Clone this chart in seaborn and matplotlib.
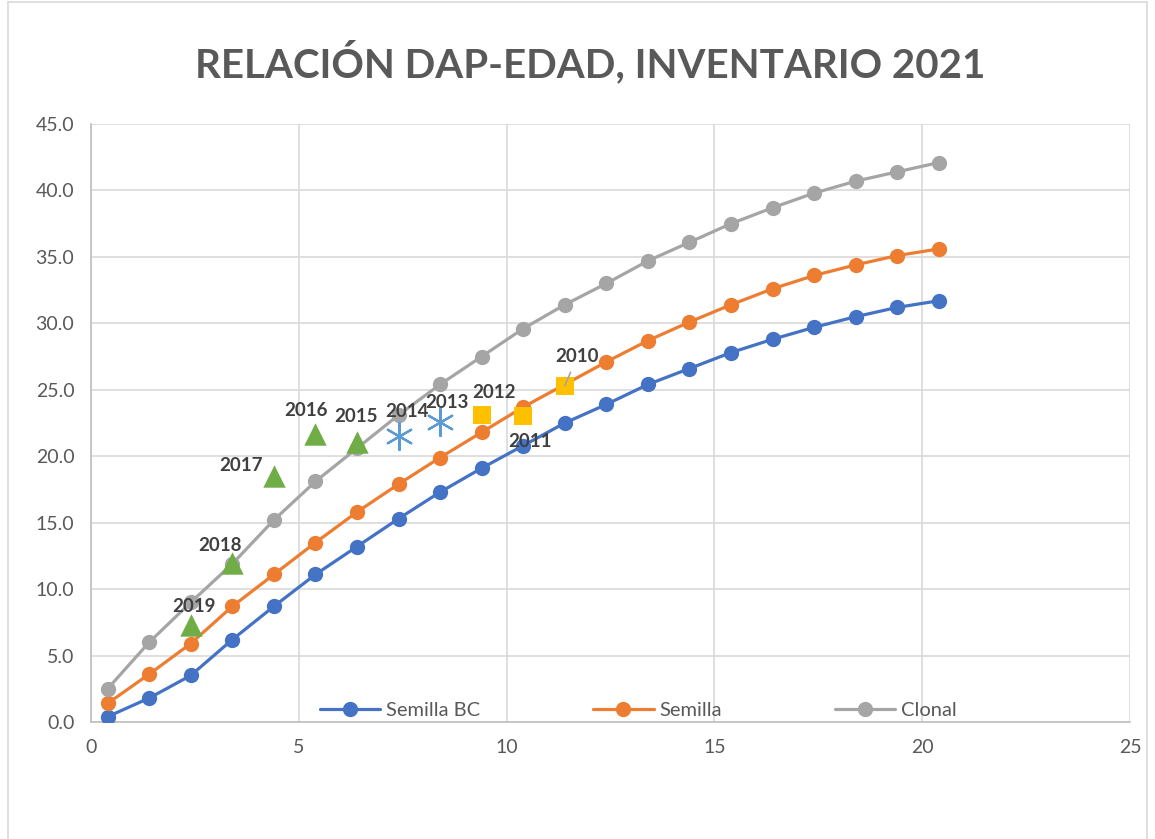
import matplotlib
matplotlib.use("Agg")
import matplotlib.pyplot as plt
import seaborn as sns
import pandas as pd
from matplotlib.patches import Rectangle

sns.set_theme(style="white")
plt.rcParams['font.family'] = ['Lato', 'DejaVu Sans']

# ------------------------------
# data
# ------------------------------
edad = [0.4, 1.4, 2.4, 3.4, 4.4, 5.4, 6.4, 7.4, 8.4, 9.4, 10.4,
        11.4, 12.4, 13.4, 14.4, 15.4, 16.4, 17.4, 18.4, 19.4, 20.4]
semilla_bc = [0.4, 1.8, 3.5, 6.2, 8.7, 11.1, 13.2, 15.3, 17.3, 19.1, 20.8,
              22.5, 23.9, 25.4, 26.6, 27.8, 28.8, 29.7, 30.5, 31.2, 31.7]
semilla = [1.4, 3.6, 5.9, 8.7, 11.1, 13.5, 15.8, 17.9, 19.9, 21.8, 23.7,
           25.4, 27.1, 28.7, 30.1, 31.4, 32.6, 33.6, 34.4, 35.1, 35.6]
clonal = [2.5, 6.0, 9.0, 11.9, 15.2, 18.1, 20.6, 23.1, 25.4, 27.5, 29.6,
          31.4, 33.0, 34.7, 36.1, 37.5, 38.7, 39.8, 40.7, 41.4, 42.1]

# inventario 2021 by planting year
inv_year = [2019, 2018, 2017, 2016, 2015, 2014, 2013, 2012, 2011, 2010]
inv_edad = [2.4, 3.4, 4.4, 5.4, 6.4, 7.4, 8.4, 9.4, 10.4, 11.4]
inv_dap = [7.3, 12.0, 18.5, 21.7, 21.1, 21.5, 22.6, 23.1, 23.0, 25.3]
inv_group = ["tri"] * 5 + ["ast"] * 2 + ["sq"] * 3

curves = pd.DataFrame({
    "edad": edad * 3,
    "dap": semilla_bc + semilla + clonal,
    "serie": ["Semilla BC"] * 21 + ["Semilla"] * 21 + ["Clonal"] * 21,
})
inv = pd.DataFrame({"year": inv_year, "edad": inv_edad, "dap": inv_dap, "grupo": inv_group})

colors = {"Semilla BC": "#4472C4", "Semilla": "#ED7D31", "Clonal": "#A5A5A5"}

fig = plt.figure(figsize=(11.55, 8.39), dpi=100)
ax = fig.add_axes([91 / 1155, 1 - 722 / 839, 1039 / 1155, 598 / 839])

sns.lineplot(data=curves, x="edad", y="dap", hue="serie", palette=colors,
             marker="o", markersize=11, markeredgewidth=0, linewidth=2.3,
             ax=ax, zorder=3)

grp_style = {
    "tri": dict(marker="^", s=260, color="#70AD47", linewidths=0),
    "ast": dict(marker=(6, 2, 0), s=380, color="#5B9BD5", linewidths=1.6),
    "sq": dict(marker="s", s=170, color="#FFC000", linewidths=0),
}
for g, st in grp_style.items():
    sub = inv[inv["grupo"] == g]
    sns.scatterplot(data=sub, x="edad", y="dap", ax=ax, zorder=4, legend=False, **st)

# label offsets in points
offsets = {2019: (2, 13), 2018: (-9, 12), 2017: (-24, 8), 2016: (-7, 17),
           2015: (-1, 18), 2014: (6, 18), 2013: (5, 14), 2012: (9, 16),
           2011: (5, -18), 2010: (9, 21)}
for y, xv, dv in zip(inv_year, inv_edad, inv_dap):
    dx, dy = offsets[y]
    arrow = None
    if y == 2010:
        arrow = dict(arrowstyle="-", color="#A5A5A5", lw=1.2, shrinkA=3, shrinkB=0)
    ax.annotate(str(y), (xv, dv), xytext=(dx, dy), textcoords="offset points",
                ha="center", va="center", fontsize=13.5, fontweight="bold",
                color="#404040", zorder=6, arrowprops=arrow)

ax.set_xlim(0, 25)
ax.set_ylim(0, 45)
ax.set_xticks(range(0, 26, 5))
ax.set_yticks(range(0, 46, 5))
ax.set_yticklabels([f"{v:.1f}" for v in range(0, 46, 5)])
ax.grid(True, color="#D9D9D9", linewidth=1.2)
ax.set_axisbelow(True)
for side in ["top", "right"]:
    ax.spines[side].set_visible(False)
for side in ["left", "bottom"]:
    ax.spines[side].set_color("#BFBFBF")
    ax.spines[side].set_linewidth(1.2)
ax.tick_params(axis="both", labelsize=14, colors="#595959", length=0, pad=12)
ax.set_xlabel("")
ax.set_ylabel("")

leg = ax.legend(loc="lower center", bbox_to_anchor=(0.527, -0.025), ncol=3,
                frameon=False, fontsize=14.5, columnspacing=5.6, handlelength=3,
                handletextpad=0.3)
for t in leg.get_texts():
    t.set_color("#595959")

fig.text(590 / 1155, 1 - 62 / 839, "RELACIÓN DAP-EDAD, INVENTARIO 2021", ha="center",
         va="center", fontsize=29, fontweight="bold", color="#595959")

fig.patches.append(Rectangle((8 / 1155, -0.01), 1 - 16 / 1155, 1 - 2 / 839 + 0.01,
                             transform=fig.transFigure, fill=False,
                             edgecolor="#D9D9D9", linewidth=1.2))

fig.savefig("out.png", dpi=100)
